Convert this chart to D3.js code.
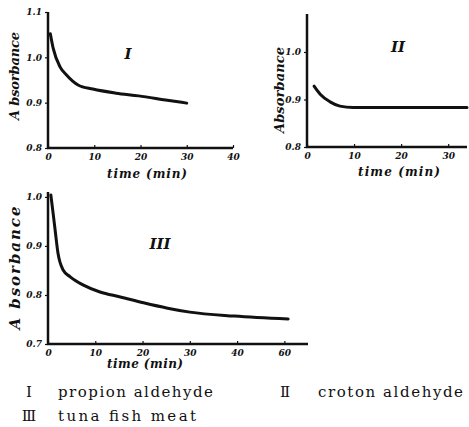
<!DOCTYPE html>
<html>
<head>
<meta charset="utf-8">
<script src="https://cdn.jsdelivr.net/npm/d3@7"></script>
<style>
  body { margin: 0; background: #fff; }
  svg { display: block; }
  .hand { font-family: "DejaVu Serif", serif; font-style: italic; font-weight: bold; fill: #111; }
  .tick text { font-family: "DejaVu Serif", serif; font-style: italic; font-weight: bold; font-size: 9px; fill: #111; }
  .legend { font-family: "DejaVu Serif", "Liberation Serif", serif; font-size: 15px; fill: #111; }
</style>
</head>
<body>
<div id="chart"></div>
<script>
// time (min) and absorbance
const timeI = [0.5, 1.1, 2.6, 4, 6.5, 9.7, 14.7, 19.6, 25.4, 30];
const absI  = [1.052, 1.021, 0.979, 0.961, 0.939, 0.930, 0.921, 0.915, 0.906, 0.899];

const timeII = [1.5, 2.8, 4.9, 7, 9.8, 15, 20, 25, 30, 34];
const absII  = [0.928, 0.911, 0.895, 0.886, 0.883, 0.883, 0.883, 0.883, 0.883, 0.883];

const timeIII = [0.6, 1, 1.5, 2.1, 3.2, 4.7, 7.5, 11, 15.3, 20.2, 25.3, 30, 39.4, 50.8];
const absIII  = [1.004, 0.973, 0.933, 0.886, 0.851, 0.837, 0.820, 0.806, 0.796, 0.784, 0.773, 0.765, 0.757, 0.751];

const xTicksI = [0, 10, 20, 30, 40];
const yTicksI = [0.8, 0.9, 1.0, 1.1];
const yLabelsI = ["0.8", "0.9", "1.0", "1.1"];
const xTicksII = [0, 10, 20, 30];
const yTicksII = [0.8, 0.9, 1.0];
const yLabelsII = ["0.8", "0.9", "1.0"];
const xTicksIII = [0, 10, 20, 30, 40, 50];
const xLabelsIII = ["0", "10", "20", "30", "40", "60"];
const yTicksIII = [0.7, 0.8, 0.9, 1.0];
const yLabelsIII = ["0.7", "0.8", "0.9", "1.0"];

const legendNames = ["Ⅰ", "Ⅱ", "Ⅲ"];
const legendTexts = ["propion aldehyde", "croton aldehyde", "tuna fish meat"];

const svg = d3.select("#chart").append("svg")
  .attr("width", 469)
  .attr("height", 427);

function panel(o){
  let g = svg.append("g");
  let x = d3.scaleLinear().domain(o.xDom).range(o.xRange);
  let y = d3.scaleLinear().domain(o.yDom).range(o.yRange);

  let xa = g.append("g")
    .attr("transform", `translate(0,${o.yRange[0]})`)
    .call(d3.axisBottom(x).tickValues(o.xTicks).tickSize(-3).tickPadding(6)
      .tickFormat((d,i)=> o.xLabels ? o.xLabels[i] : d));
  let ya = g.append("g")
    .attr("transform", `translate(${o.xRange[0]},0)`)
    .call(d3.axisLeft(y).tickValues(o.yTicks).tickSize(3).tickPadding(3)
      .tickFormat((d,i)=> o.yLabels[i]));

  [xa, ya].forEach(a=>{
    a.select(".domain").remove();
    a.selectAll(".tick line").attr("stroke", "#111").attr("stroke-width", 1.2);
  });

  // hand drawn axis lines
  g.append("line")
    .attr("x1", x(o.xDom[0]) - 1).attr("x2", x(o.xDom[1]))
    .attr("y1", o.yRange[0]).attr("y2", o.yRange[0])
    .attr("stroke", "#111").attr("stroke-width", 2.5);
  g.append("line")
    .attr("x1", o.xRange[0]).attr("x2", o.xRange[0])
    .attr("y1", o.yRange[0] + 1).attr("y2", y(o.yDom[1]))
    .attr("stroke", "#111").attr("stroke-width", 2.5);

  let pts = o.t.map((t,i)=>({t:t, v:o.v[i]}));
  g.append("path")
    .datum(pts)
    .attr("fill", "none")
    .attr("stroke", "#111")
    .attr("stroke-width", 3)
    .attr("stroke-linecap", "round")
    .attr("d", d3.line().x(d=>x(d.t)).y(d=>y(d.v)).curve(d3.curveMonotoneX));

  g.append("text").attr("class", "hand")
    .attr("transform", `translate(${o.yTitle[0]},${o.yTitle[1]}) rotate(-90)`)
    .attr("text-anchor", "middle")
    .attr("font-size", o.yTitle[3])
    .attr("textLength", o.yTitle[2])
    .text(o.yText);
  g.append("text").attr("class", "hand")
    .attr("x", o.xTitle[0]).attr("y", o.xTitle[1])
    .attr("text-anchor", "middle")
    .attr("font-size", 12)
    .attr("textLength", o.xTitle[2])
    .text("time (min)");
  g.append("text").attr("class", "hand")
    .attr("x", o.num[0]).attr("y", o.num[1])
    .attr("text-anchor", "middle")
    .attr("font-size", 15)
    .text(o.numText);
}

panel({
  t: timeI, v: absI,
  xDom: [0, 40], xRange: [48, 233],
  yDom: [0.8, 1.1], yRange: [148, 12],
  xTicks: xTicksI, yTicks: yTicksI, yLabels: yLabelsI,
  yText: "A bsorbance", yTitle: [19, 76, 88, 13],
  xTitle: [147, 178, 80], num: [128, 59], numText: "I"
});

panel({
  t: timeII, v: absII,
  xDom: [0, 34], xRange: [307, 467],
  yDom: [0.8, 1.08], yRange: [147, 14],
  xTicks: xTicksII, yTicks: yTicksII, yLabels: yLabelsII,
  yText: "Absorbance", yTitle: [284, 90, 86, 13],
  xTitle: [399, 176, 82], num: [398, 52], numText: "II"
});

panel({
  t: timeIII, v: absIII,
  xDom: [0, 55], xRange: [48, 308],
  yDom: [0.7, 1.01], yRange: [344, 192],
  xTicks: xTicksIII, xLabels: xLabelsIII, yTicks: yTicksIII, yLabels: yLabelsIII,
  yText: "A bsorbance", yTitle: [20, 268, 123, 15],
  xTitle: [145, 368, 76], num: [160, 249], numText: "III"
});

// legend
const legPos = [[29, 397, 58, 155], [285, 397, 318, 145], [29, 421, 58, 138]];
legendNames.forEach((n,i)=>{
  let p = legPos[i];
  svg.append("text").attr("class", "legend")
    .attr("x", p[0]).attr("y", p[1]).attr("text-anchor", "middle")
    .text(n);
  svg.append("text").attr("class", "legend")
    .attr("x", p[2]).attr("y", p[1])
    .attr("textLength", p[3])
    .text(legendTexts[i]);
});
</script>
</body>
</html>
